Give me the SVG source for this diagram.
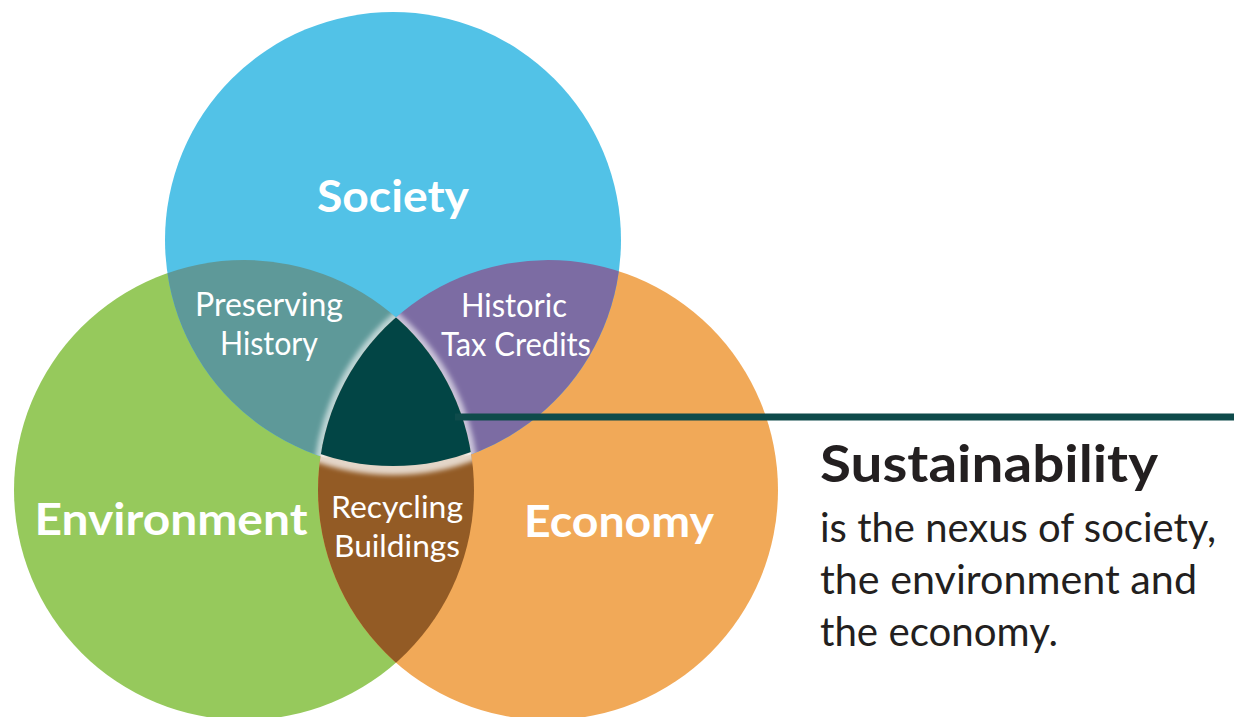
<svg xmlns="http://www.w3.org/2000/svg" width="1234" height="717" viewBox="0 0 1234 717">
  <style>
    .big { font-family: Lato, "Open Sans", "Liberation Sans", sans-serif; font-weight: 700; fill: #ffffff; text-anchor: middle; }
    .mid { font-family: Lato, "Open Sans", "Liberation Sans", sans-serif; font-weight: 400; fill: #ffffff; text-anchor: middle; }
    .head { font-family: Lato, "Open Sans", "Liberation Sans", sans-serif; font-weight: 700; fill: #231f20; }
    .body { font-family: Lato, "Open Sans", "Liberation Sans", sans-serif; font-weight: 400; fill: #231f20; }
  </style>
  <defs>
    <clipPath id="clipS"><circle cx="393" cy="240" r="228"/></clipPath>
    <clipPath id="clipE"><circle cx="244" cy="490" r="230"/></clipPath>
    <clipPath id="clipC"><circle cx="548" cy="490" r="230"/></clipPath>
    <filter id="glow" x="-20%" y="-20%" width="140%" height="140%">
      <feGaussianBlur stdDeviation="2.5"/>
    </filter>
  </defs>
  <rect width="1234" height="717" fill="#ffffff"/>

  <g id="environment">
    <circle cx="244" cy="490" r="230" fill="#96C95C"/>
  </g>
  <g id="economy">
    <circle cx="548" cy="490" r="230" fill="#F1A958"/>
  </g>
  <g id="society">
    <circle cx="393" cy="240" r="228" fill="#52C2E7"/>
  </g>

  <g id="preserving-history">
    <circle cx="393" cy="240" r="228" fill="#5E9999" clip-path="url(#clipE)"/>
  </g>
  <g id="historic-tax-credits">
    <circle cx="393" cy="240" r="228" fill="#7C6CA3" clip-path="url(#clipC)"/>
  </g>
  <g id="recycling-buildings">
    <circle cx="244" cy="490" r="230" fill="#935B25" clip-path="url(#clipC)"/>
  </g>

  <g id="sustainability-core">
    <g clip-path="url(#clipE)">
      <g clip-path="url(#clipC)">
        <circle cx="393" cy="240" r="228" fill="none" stroke="#ffffff" stroke-opacity="0.75" stroke-width="14" filter="url(#glow)"/>
      </g>
    </g>
    <g clip-path="url(#clipE)">
      <g clip-path="url(#clipS)">
        <circle cx="548" cy="490" r="230" fill="none" stroke="#ffffff" stroke-opacity="0.6" stroke-width="10" filter="url(#glow)"/>
      </g>
    </g>
    <g clip-path="url(#clipC)">
      <g clip-path="url(#clipS)">
        <circle cx="244" cy="490" r="230" fill="none" stroke="#ffffff" stroke-opacity="0.6" stroke-width="10" filter="url(#glow)"/>
      </g>
    </g>
    <g clip-path="url(#clipE)">
      <g clip-path="url(#clipC)">
        <circle cx="393" cy="240" r="226" fill="#024545"/>
      </g>
    </g>
  </g>

  <g id="connectors">
    <line x1="455" y1="417" x2="1234" y2="417" stroke="#0E4B4B" stroke-width="7"/>
  </g>

  <g id="labels">
    <text class="big" x="393" y="212" font-size="44" textLength="152" lengthAdjust="spacingAndGlyphs">Society</text>
    <text class="big" x="171" y="535" font-size="43" textLength="273" lengthAdjust="spacingAndGlyphs">Environment</text>
    <text class="big" x="619" y="537" font-size="43" textLength="190" lengthAdjust="spacingAndGlyphs">Economy</text>
    <text class="mid" x="269" y="316" font-size="33" textLength="148" lengthAdjust="spacingAndGlyphs">Preserving</text>
    <text class="mid" x="269" y="355" font-size="33" textLength="98" lengthAdjust="spacingAndGlyphs">History</text>
    <text class="mid" x="514" y="317" font-size="33" textLength="106" lengthAdjust="spacingAndGlyphs">Historic</text>
    <text class="mid" x="516" y="356" font-size="33" textLength="150" lengthAdjust="spacingAndGlyphs">Tax Credits</text>
    <text class="mid" x="397" y="518" font-size="31" textLength="132" lengthAdjust="spacingAndGlyphs">Recycling</text>
    <text class="mid" x="397" y="557" font-size="31" textLength="126" lengthAdjust="spacingAndGlyphs">Buildings</text>
  </g>

  <g id="caption">
    <text class="head" x="820" y="482" font-size="51" textLength="338" lengthAdjust="spacingAndGlyphs">Sustainability</text>
    <text class="body" x="820" y="542" font-size="41" textLength="396" lengthAdjust="spacingAndGlyphs">is the nexus of society,</text>
    <text class="body" x="820" y="594" font-size="41" textLength="377" lengthAdjust="spacingAndGlyphs">the environment and</text>
    <text class="body" x="820" y="646" font-size="41" textLength="238" lengthAdjust="spacingAndGlyphs">the economy.</text>
  </g>
</svg>
